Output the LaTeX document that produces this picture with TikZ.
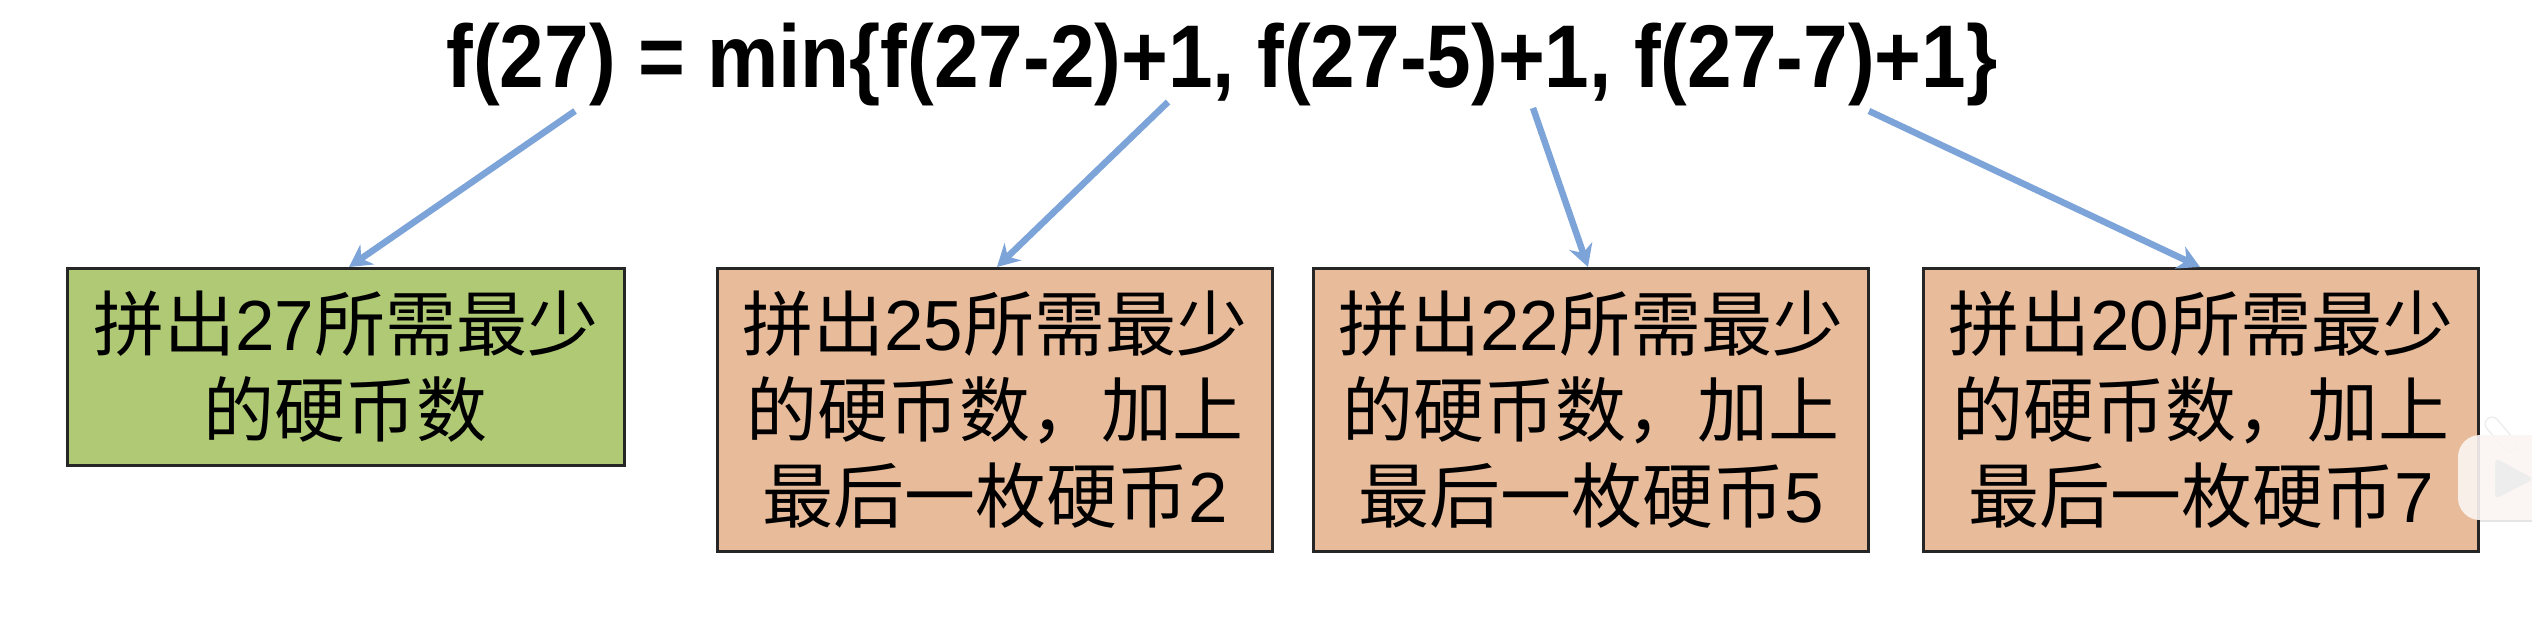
\documentclass[tikz,border=0pt]{standalone}
\usepackage{fontspec}
\setmainfont{Liberation Sans}
\newfontfamily\cjk{Noto Sans CJK SC}
\usetikzlibrary{arrows.meta}
\definecolor{arrowblue}{HTML}{7DA4D8}
\definecolor{boxgreen}{HTML}{B0C974}
\definecolor{boxorange}{HTML}{E8BC9A}
\definecolor{logotint}{HTML}{FBF5F2}
\tikzset{
  box/.style={draw=black!85,line width=2.5pt,anchor=north west,align=center,inner sep=0pt,
    font=\fontsize{71pt}{86pt}\selectfont,text=black},
  greenbox/.style={box,fill=boxgreen,minimum width=557pt,minimum height=197pt},
  orangebox/.style={box,fill=boxorange,minimum width=555pt,minimum height=283pt},
  link/.style={draw=arrowblue,line width=6.5pt,-{Stealth[length=22pt,width=24pt]}},
}
\begin{document}
\begin{tikzpicture}[x=1pt,y=-1pt]
\useasboundingbox (0,0) rectangle (2532,616);
\fill[white] (0,0) rectangle (2532,616);
\node[anchor=base,inner sep=0pt] (title) at (1222,87)
  {\resizebox{1551pt}{\height}{\fontsize{89pt}{95pt}\selectfont\bfseries f(27) = min\{f(27-2)+1, f(27-5)+1, f(27-7)+1\}}};
\node[greenbox] (g) at (66,267) {{\cjk 拼出}27{\cjk 所需最少}\\{\cjk 的硬币数}};
\node[orangebox] (a) at (716,267) {{\cjk 拼出}25{\cjk 所需最少}\\{\cjk 的硬币数，加上}\\{\cjk 最后一枚硬币}2};
\node[orangebox] (b) at (1312,267) {{\cjk 拼出}22{\cjk 所需最少}\\{\cjk 的硬币数，加上}\\{\cjk 最后一枚硬币}5};
\node[orangebox] (c) at (1922,267) {{\cjk 拼出}20{\cjk 所需最少}\\{\cjk 的硬币数，加上}\\{\cjk 最后一枚硬币}7};
\coordinate (s1) at (575,111);
\coordinate (s2) at (1168,102);
\coordinate (s3) at (1533,108);
\coordinate (s4) at (1869,111);
\coordinate (e1) at (349,268);
\coordinate (e2) at (997,268);
\coordinate (e3) at (1588,268);
\coordinate (e4) at (2200,268);
\draw[link] (s1) -- (e1 |- g.north);
\draw[link] (s2) -- (e2 |- a.north);
\draw[link] (s3) -- (e3 |- b.north);
\draw[link] (s4) -- (e4 |- c.north);
% watermark
\draw[black!7,line width=15pt,line cap=round] (2492,424) -- (2510,445);
\draw[white,line width=12pt,line cap=round] (2492,424) -- (2510,445);
\fill[logotint,opacity=.9,rounded corners=22pt] (2458,435) rectangle (2580,520);
\draw[black!10,line width=1.5pt] (2480,521) -- (2532,521);
\fill[black!7,rounded corners=5pt] (2495,458) -- (2495,499) -- (2534,479) -- cycle;
\end{tikzpicture}
\end{document}
